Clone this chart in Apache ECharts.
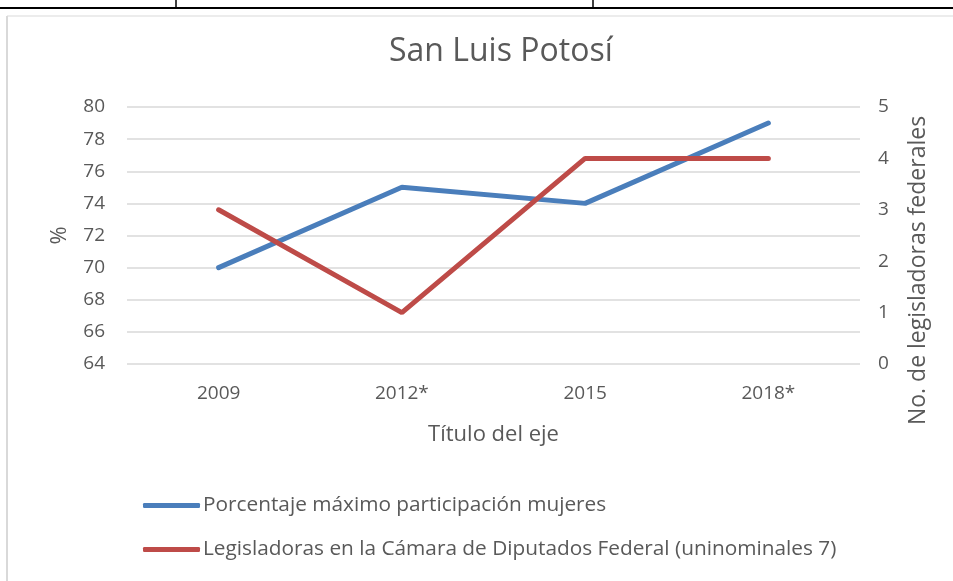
<!DOCTYPE html>
<html>
<head>
<meta charset="utf-8">
<script src="https://cdn.jsdelivr.net/npm/echarts@6/dist/echarts.min.js"></script>
<style>
  html, body { margin: 0; padding: 0; background: #fff; }
  #chart { width: 953px; height: 581px; }
</style>
</head>
<body>
<div id="chart"></div>
<script>
// data
const years = ['2009', '2012*', '2015', '2018*'];
const porcentaje = [70, 75, 74, 79];
const legisladoras = [3, 1, 4, 4];
const seriesNames = [
  'Porcentaje máximo participación mujeres',
  'Legisladoras en la Cámara de Diputados Federal (uninominales 7)'
];

const txt = '#595959';
const font = 'Open Sans';

const chart = echarts.init(document.getElementById('chart'));

chart.setOption({
  backgroundColor: '#ffffff',
  textStyle: { fontFamily: font },
  title: {
    text: 'San Luis Potosí',
    left: 384,
    top: 31,
    textStyle: { fontFamily: font, fontSize: 32, fontWeight: 'normal', color: txt }
  },
  // table border bits from the surrounding document
  graphic: [
    { type: 'line', shape: { x1: 0, y1: 8, x2: 953, y2: 8 }, style: { stroke: '#000', lineWidth: 2 } },
    { type: 'line', shape: { x1: 176, y1: 0, x2: 176, y2: 8 }, style: { stroke: '#000', lineWidth: 1.5 } },
    { type: 'line', shape: { x1: 593, y1: 0, x2: 593, y2: 8 }, style: { stroke: '#000', lineWidth: 1.5 } },
    { type: 'line', shape: { x1: 7, y1: 16, x2: 953, y2: 16 }, style: { stroke: '#d9d9d9', lineWidth: 1 } },
    { type: 'line', shape: { x1: 7, y1: 16, x2: 7, y2: 581 }, style: { stroke: '#d9d9d9', lineWidth: 2 } }
  ],
  legend: {
    orient: 'vertical',
    left: 138,
    top: 490,
    itemWidth: 57,
    itemHeight: 5,
    itemGap: 23,
    icon: 'roundRect',
    textStyle: { fontFamily: font, fontSize: 20.8, color: txt, padding: [0, 0, 0, -2] },
    data: seriesNames
  },
  grid: { left: 127, right: 93, top: 107, bottom: 217 },
  xAxis: {
    type: 'category',
    data: years,
    name: 'Título del eje',
    nameLocation: 'middle',
    nameGap: 60,
    nameTextStyle: { fontSize: 22, color: txt },
    axisLine: { show: false },
    axisTick: { show: false },
    axisLabel: { fontSize: 19, color: txt, margin: 20 }
  },
  yAxis: [
    {
      type: 'value',
      min: 64, max: 80, interval: 2,
      name: '%',
      nameLocation: 'middle',
      nameGap: 56,
      nameTextStyle: { fontSize: 22, color: txt },
      axisLabel: { fontSize: 19, color: txt, margin: 22 },
      splitLine: { lineStyle: { color: '#d9d9d9', width: 1.5 } }
    },
    {
      type: 'value',
      min: 0, max: 5, interval: 1,
      name: 'No. de legisladoras federales',
      nameLocation: 'middle',
      nameGap: 47,
      nameTextStyle: { fontSize: 23, color: txt, padding: [0, 70, 0, 0] },
      axisLabel: { fontSize: 19, color: txt, margin: 18 },
      splitLine: { show: false }
    }
  ],
  series: [
    {
      name: seriesNames[0],
      type: 'line',
      data: porcentaje,
      yAxisIndex: 0,
      symbol: 'none',
      lineStyle: { color: '#4a7ebb', width: 5, cap: 'round' },
      itemStyle: { color: '#4a7ebb' }
    },
    {
      name: seriesNames[1],
      type: 'line',
      data: legisladoras,
      yAxisIndex: 1,
      symbol: 'none',
      lineStyle: { color: '#be4b48', width: 5, cap: 'round' },
      itemStyle: { color: '#be4b48' }
    }
  ]
});
</script>
</body>
</html>
